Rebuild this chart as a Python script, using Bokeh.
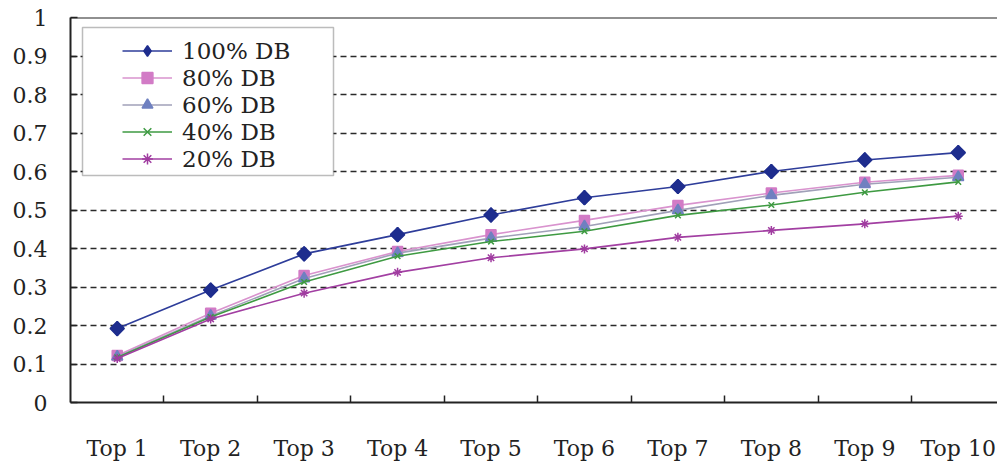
import math

from bokeh.plotting import figure
from bokeh.models import (ColumnDataSource, Range1d, FixedTicker, Legend, LegendItem,
                          BoxAnnotation, Span)
from bokeh.embed import file_html
from bokeh.resources import INLINE

# Categories along the x axis
categories = ["Top 1", "Top 2", "Top 3", "Top 4", "Top 5",
              "Top 6", "Top 7", "Top 8", "Top 9", "Top 10"]

# Series values (share of hits) per database size
db100 = [0.192, 0.292, 0.386, 0.436, 0.487, 0.532, 0.561, 0.600, 0.630, 0.649]
db80 = [0.122, 0.232, 0.330, 0.392, 0.436, 0.473, 0.512, 0.544, 0.572, 0.590]
db60 = [0.119, 0.225, 0.322, 0.388, 0.427, 0.457, 0.499, 0.538, 0.567, 0.585]
db40 = [0.117, 0.222, 0.313, 0.380, 0.418, 0.445, 0.486, 0.513, 0.546, 0.573]
db20 = [0.114, 0.217, 0.284, 0.338, 0.376, 0.399, 0.429, 0.447, 0.464, 0.484]

series_names = ["100% DB", "80% DB", "60% DB", "40% DB", "20% DB"]

# Y axis ticks and their labels
y_ticks = [0, 0.1, 0.2, 0.3, 0.4, 0.5, 0.6, 0.7, 0.8, 0.9, 1]
y_tick_labels = ["0", "0.1", "0.2", "0.3", "0.4", "0.5", "0.6", "0.7", "0.8", "0.9", "1"]

xs = list(range(1, len(categories) + 1))
source = ColumnDataSource(dict(x=xs, db100=db100, db80=db80, db60=db60, db40=db40, db20=db20))

FONT = "DejaVu Serif"
TEXT = "#222222"

p = figure(width=997, height=468, output_backend="svg", toolbar_location=None,
           x_range=Range1d(0.5, 10.42), y_range=Range1d(0, 1),
           min_border_left=70, min_border_right=0, min_border_top=17,
           min_border_bottom=66)
p.outline_line_color = None
p.background_fill_color = "white"

# x axis: category labels at centres, small inward ticks between categories
p.xaxis.ticker = FixedTicker(ticks=xs, minor_ticks=[i + 0.5 for i in xs[:-1]])
p.xaxis.major_label_overrides = {x: c for x, c in zip(xs, categories)}
p.xaxis.major_tick_in = 0
p.xaxis.major_tick_out = 0
p.xaxis.minor_tick_in = 7
p.xaxis.minor_tick_out = 0
p.xaxis.minor_tick_line_color = "#222222"
p.xaxis.minor_tick_line_width = 1.5
p.xaxis.major_label_standoff = 33
p.xaxis.major_label_text_font = FONT
p.xaxis.major_label_text_font_size = "22px"
p.xaxis.major_label_text_color = TEXT
p.xaxis.axis_line_width = 2
p.xaxis.axis_line_color = "#222222"

# y axis
p.yaxis.ticker = FixedTicker(ticks=y_ticks)
p.yaxis.major_label_overrides = {t: l for t, l in zip(y_ticks, y_tick_labels)}
p.yaxis.major_tick_in = 7
p.yaxis.major_tick_out = 0
p.yaxis.major_tick_line_width = 1.5
p.yaxis.major_tick_line_color = "#222222"
p.yaxis.minor_tick_line_color = None
p.yaxis.major_label_standoff = 23
p.yaxis.major_label_text_font = FONT
p.yaxis.major_label_text_font_size = "22px"
p.yaxis.major_label_text_color = TEXT
p.yaxis.axis_line_width = 2
p.yaxis.axis_line_color = "#222222"

# grid: dashed horizontal lines only
p.xgrid.grid_line_color = None
p.ygrid.ticker = FixedTicker(ticks=y_ticks[1:-1])
p.ygrid.grid_line_color = "#2a2a2a"
p.ygrid.grid_line_dash = "6 4"
p.ygrid.grid_line_width = 1.7

# solid top border of the plot area
p.add_layout(Span(location=1, dimension="width", line_color="#222222", line_width=2))

# (column, line colour, marker colour, marker, size)
styles = [
    ("db100", "#2E3D9A", "#1E2D8E", "diamond", 14),
    ("db80", "#D993CE", "#D27BC6", "square", 10),
    ("db60", "#A0A0B8", "#6F80C0", "triangle", 11),
    ("db40", "#3E9A42", "#3E9A42", "x", 8),
    ("db20", "#A23FA2", "#A03CA0", "asterisk", 9),
]

items = []
for name, (col, lcolor, mcolor, marker, size) in zip(series_names, styles):
    rl = p.line("x", col, source=source, line_color=lcolor, line_width=1.6)
    rs = p.scatter("x", col, source=source, marker=marker, size=size,
                   fill_color=mcolor, line_color=mcolor, line_width=1.5)
    if marker == "diamond":
        # broaden the diamonds on the chart with a 45-degree square on top
        p.scatter("x", col, source=source, marker="square", size=10, angle=math.pi / 4,
                  fill_color=mcolor, line_color=mcolor, line_width=1.5)
    items.append(LegendItem(label=name, renderers=[rl, rs]))

# legend frame
p.add_layout(BoxAnnotation(left=82, right=333, top=27, bottom=175,
                           left_units="canvas", right_units="canvas",
                           top_units="canvas", bottom_units="canvas",
                           fill_color="white", fill_alpha=1.0,
                           line_color="#222222", line_width=1.5))

legend = Legend(items=items, location=(52, 230), padding=0, margin=0, spacing=0,
                glyph_width=50, glyph_height=27, label_height=27, label_standoff=10,
                label_text_font=FONT, label_text_font_size="23px",
                label_text_color=TEXT, border_line_color=None,
                background_fill_alpha=0)
p.add_layout(legend)

open("out.html", "w").write(file_html(p, INLINE))
